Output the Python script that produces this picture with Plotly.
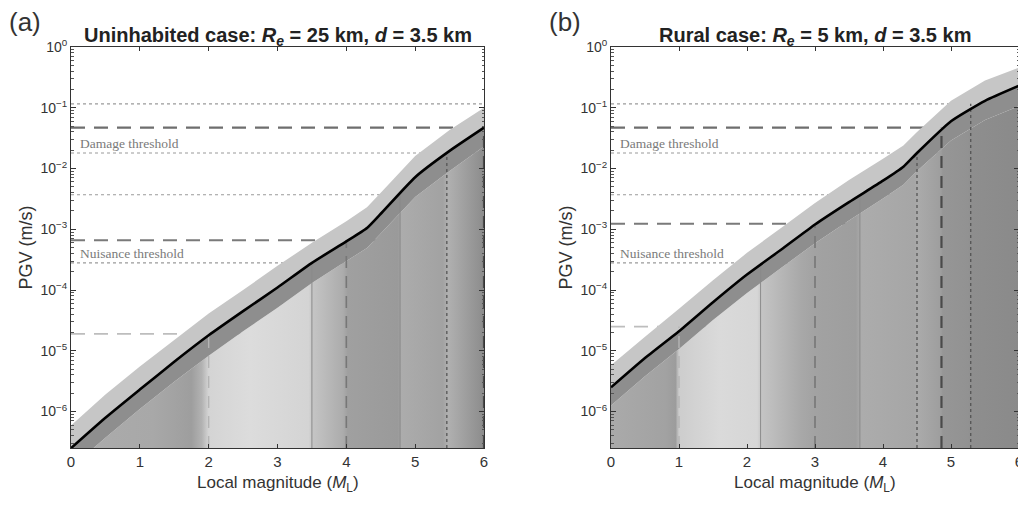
import math
import plotly.graph_objects as go

# ── 데이터 ────────────────────────────────────────────
mag = [0, 0.5, 1, 1.5, 2, 2.5, 3, 3.5, 4, 4.3, 4.5, 5, 5.5, 6]

# (a) Uninhabited case
pgv_a       = [2.5e-7, 7.9e-7, 2.3e-6, 6.6e-6, 1.8e-5, 4.5e-5, 1.1e-4, 2.8e-4, 6.3e-4, 1.05e-3, 1.8e-3, 7.2e-3, 1.95e-2, 4.7e-2]
pgv_a_upper = [5.9e-7, 1.9e-6, 5.5e-6, 1.5e-5, 4.1e-5, 1.0e-4, 2.5e-4, 6.0e-4, 1.35e-3, 2.3e-3, 4.0e-3, 1.6e-2, 4.3e-2, 1.0e-1]
pgv_a_lower = [1.2e-7, 3.7e-7, 1.1e-6, 3.1e-6, 8.3e-6, 2.1e-5, 5.1e-5, 1.3e-4, 3.0e-4, 4.9e-4, 8.5e-4, 3.4e-3, 9.1e-3, 2.3e-2]

# (b) Rural case
pgv_b       = [2.5e-6, 7.6e-6, 2.1e-5, 6.3e-5, 1.8e-4, 4.6e-4, 1.2e-3, 2.8e-3, 6.3e-3, 1.07e-2, 1.8e-2, 6.0e-2, 0.13, 0.23]
pgv_b_upper = [5.8e-6, 1.7e-5, 4.9e-5, 1.45e-4, 4.1e-4, 1.05e-3, 2.7e-3, 6.5e-3, 1.45e-2, 2.4e-2, 4.0e-2, 0.13, 0.28, 0.46]
pgv_b_lower = [1.26e-6, 3.8e-6, 1.07e-5, 3.2e-5, 8.9e-5, 2.3e-4, 5.9e-4, 1.4e-3, 3.2e-3, 5.4e-3, 9.1e-3, 2.9e-2, 6.3e-2, 0.107]

# 점선 수평선 (두 패널 공통) 과 곡선과 만나는 규모
dotted_levels  = [0.116, 0.018, 0.0037, 2.8e-4]
dotted_cross_a = [None, 5.46, 4.78, 3.5]
dotted_cross_b = [5.29, 4.5, 3.66, 2.2]

# 파선 수평선 (피해 / 불편 기준)
dashed_levels_a = [0.047, 6.6e-4, 1.9e-5]
dashed_cross_a  = [6.0, 4.0, 2.0]
dashed_levels_b = [0.047, 1.23e-3, 2.5e-5]
dashed_cross_b  = [4.86, 3.0, 1.0]

damage_label_y   = 0.026
nuisance_label_y = 4.0e-4

# 곡선 아래 회색 그라데이션 (규모, 회색 값)
grad_a_mag  = [0, 1.2, 1.75, 1.9, 2.0, 2.6, 3.45, 3.52, 3.95, 4.02, 4.75, 4.8, 5.4, 5.48, 6.0]
grad_a_grey = [172, 168, 158, 178, 212, 220, 212, 196, 172, 160, 154, 172, 162, 176, 140]
grad_b_mag  = [0, 0.8, 0.95, 1.0, 1.6, 2.15, 2.22, 2.8, 3.0, 3.6, 3.68, 4.45, 4.52, 4.85, 4.88, 5.25, 5.3, 6.0]
grad_b_grey = [170, 162, 156, 205, 218, 214, 196, 168, 162, 158, 172, 166, 170, 158, 150, 146, 142, 138]

x_ticks = [0, 1, 2, 3, 4, 5, 6]
y_ticks = [1e-6, 1e-5, 1e-4, 1e-3, 1e-2, 1e-1, 1]
y_ticktext = ["10<sup>−6</sup>", "10<sup>−5</sup>", "10<sup>−4</sup>", "10<sup>−3</sup>",
              "10<sup>−2</sup>", "10<sup>−1</sup>", "10<sup>0</sup>"]
y_minor = [k * 10.0 ** e for e in range(-7, 0) for k in range(2, 10)]

Y_LOG_MIN = -6.6
Y_MIN = 10 ** Y_LOG_MIN
BASE = 1e-9

# 페이지 body 여백(8px)을 빼고 그림 크기를 잡음
OFF = 8
FW, FH = 1026 - OFF, 507 - OFF
SANS = "Liberation Sans, Arial, sans-serif"
SERIF = "Liberation Serif, Times New Roman, serif"


def fx(px):
    return (px - OFF) / FW


def fy(py):
    return 1 - (py - OFF) / FH


fig = go.Figure()


def add_panel(xa, ya, curve, upper, lower, dashed_lv, dashed_x, dotted_x, g_mag, g_grey):
    # 수평 기준선 (채움 아래에 깔림)
    for lv in dotted_levels:
        fig.add_trace(go.Scatter(x=[0, 6], y=[lv, lv], mode="lines", xaxis=xa, yaxis=ya,
                                 line=dict(color="#9a9a9a", width=1.2, dash="dot"),
                                 hoverinfo="skip", showlegend=False))
    dash_styles = [("#6e6e6e", 2.2), ("#7a7a7a", 2.0), ("#bdbdbd", 1.6)]
    for lv, (c, w) in zip(dashed_lv, dash_styles):
        fig.add_trace(go.Scatter(x=[0, 6], y=[lv, lv], mode="lines", xaxis=xa, yaxis=ya,
                                 line=dict(color=c, width=w, dash="14px,9px"),
                                 hoverinfo="skip", showlegend=False))

    # 그라데이션 영역
    scale = [[m / 6, f"rgb({g},{g},{g})"] for m, g in zip(g_mag, g_grey)]
    fig.add_trace(go.Scatter(x=mag + [6, 0], y=lower + [BASE, BASE], fill="toself", mode="none",
                             xaxis=xa, yaxis=ya, hoverinfo="skip", showlegend=False,
                             fillgradient=dict(type="horizontal", colorscale=scale, start=0, stop=6)))
    # 밝은 띠 (곡선 위)
    fig.add_trace(go.Scatter(x=mag + mag[::-1], y=upper + curve[::-1], fill="toself", mode="none",
                             fillcolor="#c6c6c6", xaxis=xa, yaxis=ya, hoverinfo="skip", showlegend=False))
    # 어두운 띠 (곡선 아래)
    fig.add_trace(go.Scatter(x=mag + mag[::-1], y=curve + lower[::-1], fill="toself", mode="none",
                             fillcolor="#8e8e8e", xaxis=xa, yaxis=ya, hoverinfo="skip", showlegend=False))

    # 수직선
    vdot_styles = [("#555555", 1.3, "dot"), ("#555555", 1.3, "dot"),
                   ("#8a8a8a", 1.0, "solid"), ("#8a8a8a", 1.0, "solid")]
    for xc, lv, (c, w, d) in zip(dotted_x, dotted_levels, vdot_styles):
        if xc is None:
            continue
        fig.add_trace(go.Scatter(x=[xc, xc], y=[Y_MIN, lv], mode="lines", xaxis=xa, yaxis=ya,
                                 line=dict(color=c, width=w, dash=d), hoverinfo="skip", showlegend=False))
    vdash_styles = [("#4a4a4a", 2.2), ("#777777", 1.6), ("#b4b4b4", 1.4)]
    for xc, lv, (c, w) in zip(dashed_x, dashed_lv, vdash_styles):
        fig.add_trace(go.Scatter(x=[xc, xc], y=[Y_MIN, lv], mode="lines", xaxis=xa, yaxis=ya,
                                 line=dict(color=c, width=w, dash="12px,8px"),
                                 hoverinfo="skip", showlegend=False))

    # 중앙 곡선
    fig.add_trace(go.Scatter(x=mag, y=curve, mode="lines", xaxis=xa, yaxis=ya,
                             line=dict(color="black", width=2.6, shape="spline", smoothing=0.5),
                             hoverinfo="skip", showlegend=False))

    # 기준 라벨
    for txt, yv in [("Damage threshold", damage_label_y), ("Nuisance threshold", nuisance_label_y)]:
        fig.add_annotation(x=0.1, y=math.log10(yv), xref=xa, yref=ya, text=txt, showarrow=False,
                           xanchor="left", yanchor="middle",
                           font=dict(family=SERIF, size=13.5, color="#7a7a7a"))


add_panel("x", "y", pgv_a, pgv_a_upper, pgv_a_lower, dashed_levels_a, dashed_cross_a,
          dotted_cross_a, grad_a_mag, grad_a_grey)
add_panel("x2", "y2", pgv_b, pgv_b_upper, pgv_b_lower, dashed_levels_b, dashed_cross_b,
          dotted_cross_b, grad_b_mag, grad_b_grey)

dom_a = [fx(71), fx(484)]
dom_b = [fx(611), fx(1019)]
dom_y = [fy(448), fy(47)]

xax = dict(range=[0, 6], tickvals=x_ticks, ticks="inside", ticklen=4, tickcolor="#333",
           showline=True, linecolor="#333", linewidth=1, mirror="ticks", showgrid=False,
           zeroline=False, automargin=False, ticklabeloverflow="allow",
           tickfont=dict(family=SANS, size=15, color="#333"))
yax = dict(type="log", range=[Y_LOG_MIN, 0], tickvals=y_ticks, ticktext=y_ticktext,
           ticks="inside", ticklen=5, tickcolor="#333", showline=True, linecolor="#333",
           linewidth=1, mirror="ticks", showgrid=False, zeroline=False, automargin=False,
           ticklabeloverflow="allow", tickfont=dict(family=SANS, size=14, color="#333"),
           minor=dict(tickmode="array", tickvals=y_minor, ticks="inside", ticklen=2.5,
                      tickcolor="#555", showgrid=False))

fig.update_layout(
    width=FW, height=FH,
    margin=dict(l=0, r=0, t=0, b=0, autoexpand=False),
    template="none",
    paper_bgcolor="white", plot_bgcolor="white",
    xaxis=dict(domain=dom_a, anchor="y", **xax),
    yaxis=dict(domain=dom_y, anchor="x", **yax),
    xaxis2=dict(domain=dom_b, anchor="y2", **xax),
    yaxis2=dict(domain=dom_y, anchor="x2", **yax),
)

# 제목, 축 라벨, 패널 기호
for left_px, dom, tag, title in [
    (71, dom_a, "(a)", "<b>Uninhabited case: <i>R</i><sub><i>e</i></sub> = 25 km, <i>d</i> = 3.5 km</b>"),
    (611, dom_b, "(b)", "<b>Rural case: <i>R</i><sub><i>e</i></sub> = 5 km, <i>d</i> = 3.5 km</b>"),
]:
    mid = (dom[0] + dom[1]) / 2
    fig.add_annotation(x=mid, y=fy(37), xref="paper", yref="paper", text=title, showarrow=False,
                       xanchor="center", yanchor="middle", font=dict(family=SANS, size=20, color="#222"))
    fig.add_annotation(x=mid, y=fy(484), xref="paper", yref="paper",
                       text="Local magnitude (<i>M</i><sub>L</sub>)", showarrow=False,
                       xanchor="center", yanchor="middle", font=dict(family=SANS, size=17, color="#333"))
    fig.add_annotation(x=fx(left_px - 46), y=(dom_y[0] + dom_y[1]) / 2, xref="paper", yref="paper",
                       text="PGV (m/s)", textangle=-90, showarrow=False,
                       xanchor="center", yanchor="middle", font=dict(family=SANS, size=18, color="#333"))
    fig.add_annotation(x=fx(left_px - 64), y=fy(22), xref="paper", yref="paper", text=tag,
                       showarrow=False, xanchor="left", yanchor="middle",
                       font=dict(family=SANS, size=26, color="#333"))

fig.write_html("out.html")
